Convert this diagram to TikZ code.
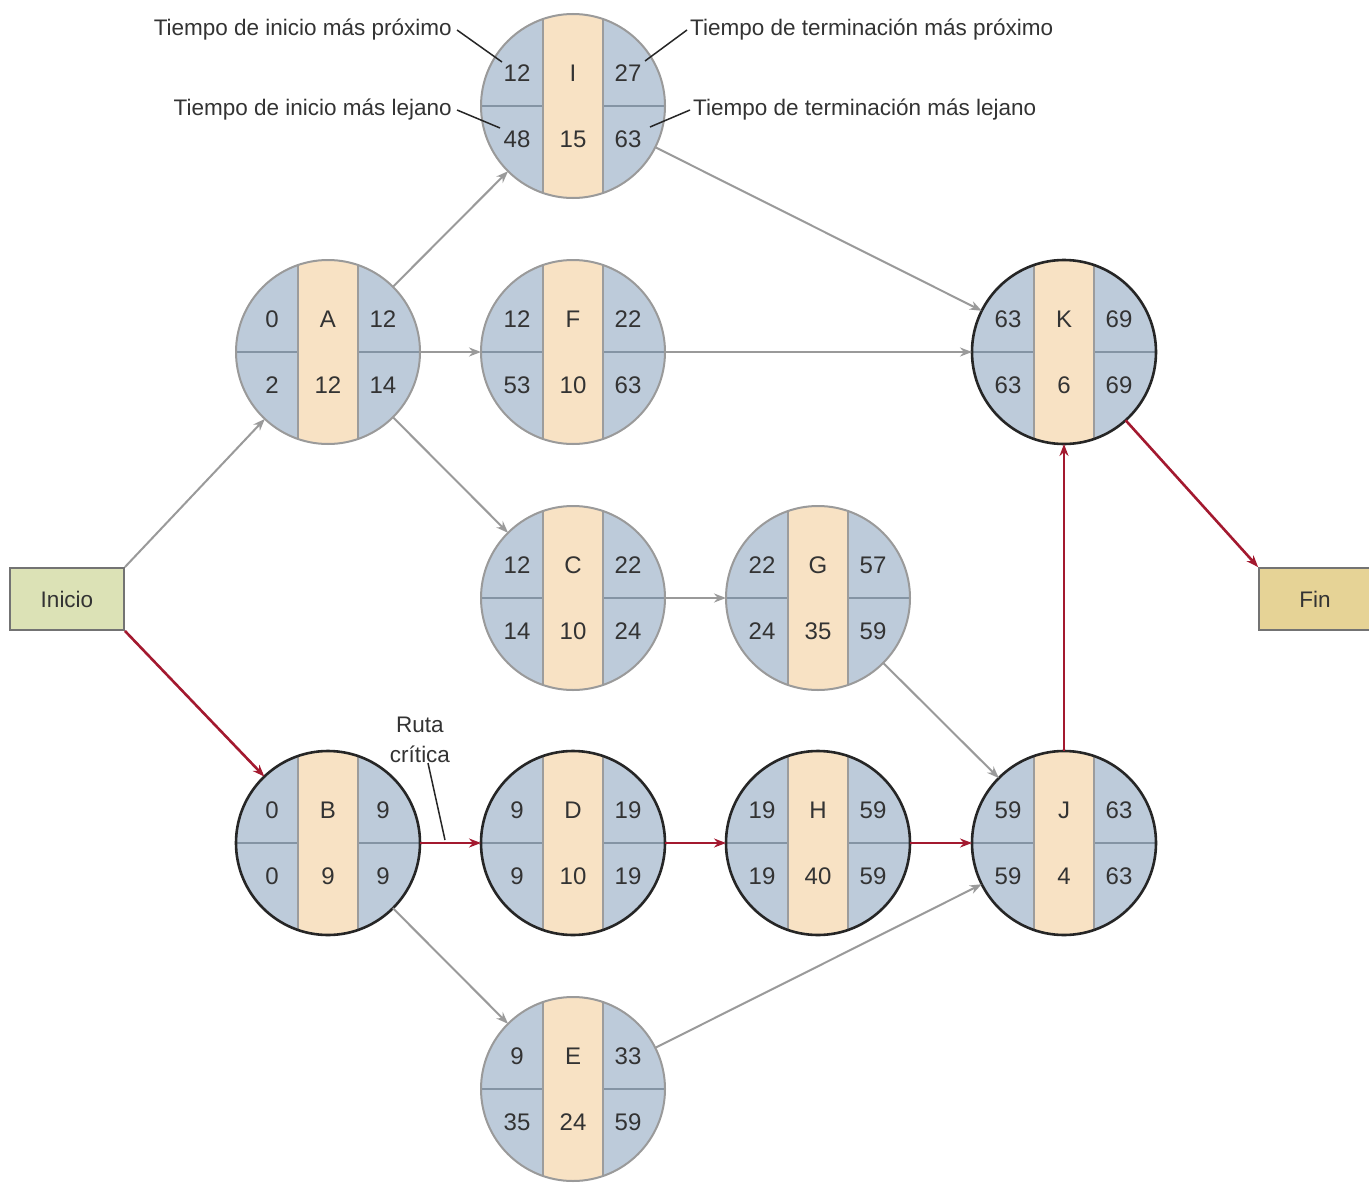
\documentclass[tikz,border=0pt]{standalone}
\usepackage{fontspec}
\setmainfont{Liberation Sans}
\usetikzlibrary{arrows.meta}
\definecolor{circfill}{HTML}{BDCBDA}
\definecolor{bandfill}{HTML}{F8E2C4}
\definecolor{sepcol}{HTML}{8494A4}
\definecolor{bandedge}{HTML}{9C9C9C}
\definecolor{grayedge}{HTML}{9A9A9A}
\definecolor{critred}{HTML}{A3192F}
\definecolor{txtcol}{HTML}{333333}
\definecolor{iniciofill}{HTML}{DCE2B6}
\definecolor{finfill}{HTML}{E6D396}
\tikzset{
  actbase/.style={circle, minimum size=184pt, inner sep=0pt, outer sep=0pt, fill=circfill},
  normb/.style={draw=grayedge, line width=2pt},
  critb/.style={draw=black!85, line width=2.6pt},
  bandline/.style={draw=bandedge, line width=2pt},
  sepline/.style={draw=sepcol, line width=2pt},
  numtxt/.style={text=txtcol, font=\fontsize{24}{28}\selectfont, inner sep=0pt},
  lbltxt/.style={text=txtcol, font=\fontsize{22.5}{26}\selectfont, inner sep=0pt},
  garrow/.style={draw=grayedge, line width=2pt, -{Stealth[length=12pt,width=9pt]}},
  rarrow/.style={draw=critred, line width=2.6pt, -{Stealth[length=12pt,width=9pt]}},
  leader/.style={draw=black!85, line width=1.5pt},
  boxnode/.style={draw=black!55, line width=1.8pt, minimum width=114pt, minimum height=62pt, inner sep=0pt, text=txtcol, font=\fontsize{22.5}{26}\selectfont},
}
% #1 border style, #2 name, #3 position, #4 letter, #5 duration, #6 ES, #7 EF, #8 LS, #9 LF
\newcommand{\act}[9]{%
  \node[actbase] (#2) at (#3) {};
  \begin{scope}
    \clip (#2.center) circle[radius=92pt];
    \fill[bandfill] ([xshift=-30pt,yshift=100pt]#2.center) rectangle ([xshift=30pt,yshift=-100pt]#2.center);
    \draw[bandline] ([xshift=-30pt,yshift=100pt]#2.center) -- ([xshift=-30pt,yshift=-100pt]#2.center);
    \draw[bandline] ([xshift=30pt,yshift=100pt]#2.center) -- ([xshift=30pt,yshift=-100pt]#2.center);
    \draw[sepline] ([xshift=-100pt]#2.center) -- ([xshift=-31pt]#2.center);
    \draw[sepline] ([xshift=100pt]#2.center) -- ([xshift=31pt]#2.center);
  \end{scope}
  \draw[#1] (#2.center) circle[radius=92pt];
  \node[numtxt] (#2-let) at ([yshift=33pt]#2.center) {#4};
  \node[numtxt] (#2-dur) at ([yshift=-33pt]#2.center) {#5};
  \node[numtxt] (#2-es) at ([shift={(-56pt,33pt)}]#2.center) {#6};
  \node[numtxt] (#2-ef) at ([shift={(55pt,33pt)}]#2.center) {#7};
  \node[numtxt] (#2-ls) at ([shift={(-56pt,-33pt)}]#2.center) {#8};
  \node[numtxt] (#2-lf) at ([shift={(55pt,-33pt)}]#2.center) {#9};
}
\begin{document}
\begin{tikzpicture}[x=1pt,y=-1pt]
\useasboundingbox[fill=white] (0,0) rectangle (1369,1183);

\act{normb}{I}{573,106}{I}{15}{12}{27}{48}{63}
\act{normb}{A}{328,352}{A}{12}{0}{12}{2}{14}
\act{normb}{F}{573,352}{F}{10}{12}{22}{53}{63}
\act{critb}{K}{1064,352}{K}{6}{63}{69}{63}{69}
\act{normb}{C}{573,598}{C}{10}{12}{22}{14}{24}
\act{normb}{G}{818,598}{G}{35}{22}{57}{24}{59}
\act{critb}{B}{328,843}{B}{9}{0}{9}{0}{9}
\act{critb}{D}{573,843}{D}{10}{9}{19}{9}{19}
\act{critb}{H}{818,843}{H}{40}{19}{59}{19}{59}
\act{critb}{J}{1064,843}{J}{4}{59}{63}{59}{63}
\act{normb}{E}{573,1089}{E}{24}{9}{33}{35}{59}

\node[boxnode, fill=iniciofill] (inicio) at (67,599) {Inicio};
\node[boxnode, fill=finfill, minimum width=112pt] (fin) at (1315,599) {Fin};

% gray arrows
\draw[garrow] (inicio.north east) -- (A);
\draw[garrow] (A) -- (I);
\draw[garrow] (A) -- (F);
\draw[garrow] (A) -- (C);
\draw[garrow] (I) -- (K);
\draw[garrow] (F) -- (K);
\draw[garrow] (C) -- (G);
\draw[garrow] (G) -- (J);
\draw[garrow] (B) -- (E);
\draw[garrow] (E) -- (J);
% critical path
\draw[rarrow] (inicio.south east) -- (B);
\draw[rarrow] (B) -- (D);
\draw[rarrow] (D) -- (H);
\draw[rarrow] (H) -- (J);
\draw[rarrow] (J) -- (K);
\draw[rarrow] (K) -- (fin.north west);

% legend labels
\node[lbltxt, anchor=east] (lblES) at (452,30) {Tiempo de inicio más próximo};
\node[lbltxt, anchor=east] (lblLS) at (452,110) {Tiempo de inicio más lejano};
\node[lbltxt, anchor=west] (lblEF) at (690,30) {Tiempo de terminación más próximo};
\node[lbltxt, anchor=west] (lblLF) at (693,110) {Tiempo de terminación más lejano};
\coordinate (pES) at (502,62);
\coordinate (pLS) at (500,128);
\coordinate (pEF) at (645,61);
\coordinate (pLF) at (650,127);
\draw[leader] ([xshift=5pt]lblES.east) -- (pES);
\draw[leader] ([xshift=5pt]lblLS.east) -- (pLS);
\draw[leader] ([xshift=-3pt]lblEF.west) -- (pEF);
\draw[leader] ([xshift=-3pt]lblLF.west) -- (pLF);

\node[lbltxt, align=center] (ruta) at (420,740) {Ruta\\[4pt]crítica};
\coordinate (pRuta) at (445,840);
\draw[leader] ([xshift=8pt]ruta.south) -- (pRuta);
\end{tikzpicture}
\end{document}
